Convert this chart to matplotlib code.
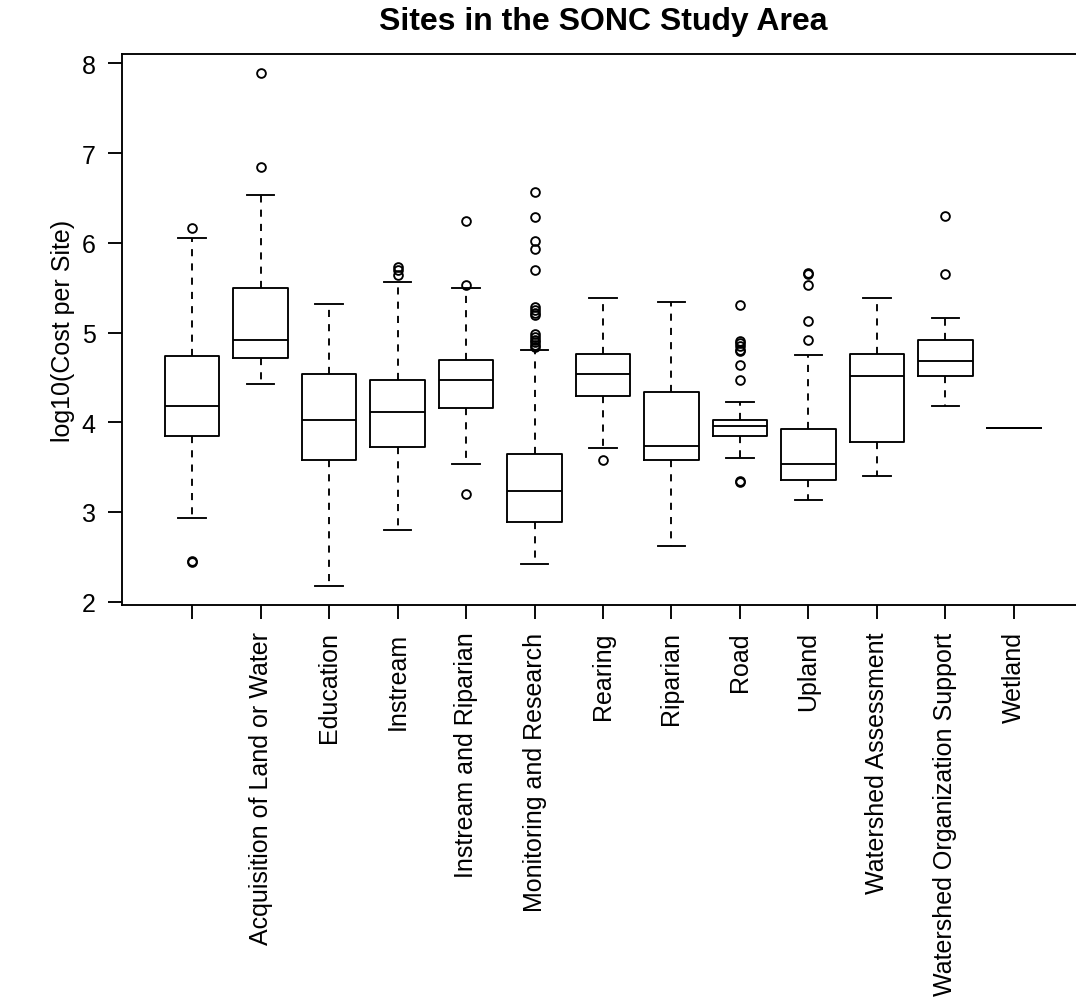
import matplotlib
matplotlib.use("Agg")
import matplotlib.pyplot as plt

plt.rcParams['font.family'] = ['Liberation Sans', 'DejaVu Sans']

categories = ["", "Acquisition of Land or Water", "Education", "Instream",
              "Instream and Riparian", "Monitoring and Research", "Rearing",
              "Riparian", "Road", "Upland", "Watershed Assessment",
              "Watershed Organization Support", "Wetland"]

# five-number summaries (log10 cost per site)
whislo = [2.93, 4.43, 2.18, 2.80, 3.54, 2.42, 3.71, 2.62, 3.60, 3.13, 3.40, 4.18, 3.94]
q1 = [3.85, 4.72, 3.58, 3.72, 4.16, 2.89, 4.29, 3.58, 3.85, 3.36, 3.78, 4.52, 3.94]
med = [4.18, 4.92, 4.03, 4.11, 4.47, 3.23, 4.54, 3.74, 3.96, 3.54, 4.52, 4.68, 3.94]
q3 = [4.74, 5.50, 4.54, 4.47, 4.69, 3.65, 4.76, 4.34, 4.03, 3.92, 4.76, 4.92, 3.94]
whishi = [6.05, 6.53, 5.32, 5.56, 5.50, 4.81, 5.39, 5.34, 4.23, 4.75, 5.39, 5.16, 3.94]
outliers = [
    [6.17, 2.45, 2.44],
    [7.89, 6.85],
    [],
    [5.73, 5.70, 5.64],
    [6.24, 5.53, 3.20],
    [6.57, 6.29, 6.02, 5.93, 5.70, 5.28, 5.25, 5.22, 5.19,
     4.98, 4.95, 4.92, 4.89, 4.86, 4.84],
    [3.58],
    [],
    [5.31, 4.90, 4.88, 4.85, 4.81, 4.79, 4.64, 4.47, 3.34, 3.33],
    [5.66, 5.65, 5.53, 5.13, 4.92],
    [],
    [6.30, 5.65],
    [],
]

stats = []
for i in range(len(categories)):
    stats.append(dict(whislo=whislo[i], q1=q1[i], med=med[i], q3=q3[i],
                      whishi=whishi[i], fliers=outliers[i], label=categories[i]))

W, H = 1076, 1003
fig = plt.figure(figsize=(W / 100, H / 100), dpi=100)
ax = fig.add_axes([122 / W, (H - 606) / H, (1084 - 122) / W, (606 - 55) / H])

lw = 1.35
ax.bxp(stats, positions=range(1, len(categories) + 1), widths=0.8,
       capwidths=0.4, patch_artist=False,
       boxprops=dict(color='black', lw=lw),
       medianprops=dict(color='black', lw=lw),
       whiskerprops=dict(color='black', lw=lw, linestyle=(0, (3.8, 3.8))),
       capprops=dict(color='black', lw=lw),
       flierprops=dict(marker='o', markerfacecolor='none', markeredgecolor='black',
                       markersize=6.3, markeredgewidth=1.35, linestyle='none'))

ax.set_xlim(-0.022, 14.022)
ax.set_ylim(1.963, 8.104)
ax.set_yticks(range(2, 9))
ax.set_xticks(range(1, len(categories) + 1))
ax.set_xticklabels(categories, rotation=90, fontsize=18, va='top', ha='center')
ax.tick_params(axis='y', labelsize=18)
ax.tick_params(direction='out', length=10, width=lw, pad=9)
for s in ax.spines.values():
    s.set_linewidth(lw)

ax.set_ylabel("log10(Cost per Site)", fontsize=18)
ax.yaxis.set_label_coords(-47 / (1084 - 122), 0.5)

fig.text(603 / W, 1 - 30 / H, "Sites in the SONC Study Area", fontsize=23,
         fontweight='bold', ha='center', va='baseline')

fig.savefig("out.png", dpi=100)
